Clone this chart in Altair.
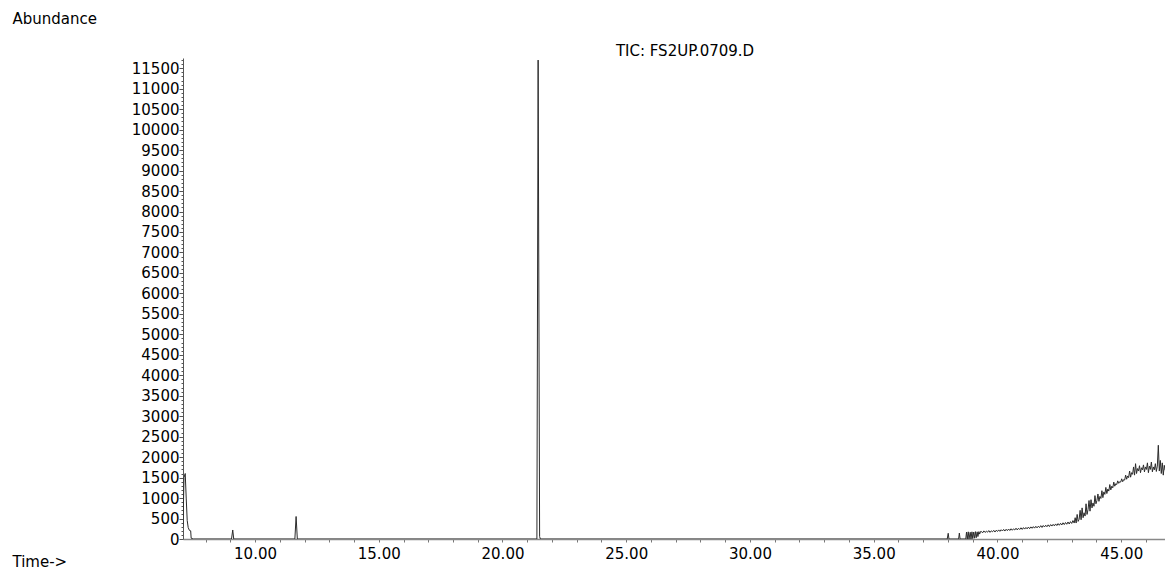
import altair as alt
import pandas as pd

# --- chromatogram values ---
early_times = [7.09, 7.13, 7.18, 7.22, 7.26, 7.30, 7.35, 7.40, 7.42, 7.50,
               9.05, 9.10, 9.14, 11.61, 11.66, 11.71, 21.39, 21.44, 21.50, 21.53]
early_vals = [300, 1500, 1600, 1000, 450, 280, 210, 200, 20, 0,
              0, 220, 0, 0, 550, 0, 0, 11700, 60, 0]

spike_times = [37.97, 38.01, 38.04, 38.43, 38.46, 38.49, 38.72, 38.75, 38.78, 38.82,
               38.85, 38.90, 38.93, 38.97, 39.00, 39.04, 39.07, 39.11, 39.14, 39.18,
               39.21, 39.25, 39.28, 39.32]
spike_vals = [0, 140, 0, 0, 145, 0, 0, 170, 0, 175,
              0, 165, 0, 175, 10, 170, 20, 180, 30, 175,
              60, 180, 120, 185]

slow_times = [39.35, 39.40, 39.45, 39.50, 39.55, 39.60, 39.65, 39.70, 39.75, 39.80,
              39.85, 39.90, 39.95, 40.00, 40.05, 40.10, 40.15, 40.20, 40.25, 40.30,
              40.35, 40.40, 40.45, 40.50, 40.55, 40.60, 40.65, 40.70, 40.75, 40.80,
              40.85, 40.90, 40.95, 41.00, 41.05, 41.10, 41.15, 41.20, 41.25, 41.30,
              41.35, 41.40, 41.45, 41.50, 41.55, 41.60, 41.65, 41.70, 41.75, 41.80,
              41.85, 41.90, 41.95, 42.00, 42.05, 42.10, 42.15, 42.20, 42.25, 42.30,
              42.35, 42.40, 42.45, 42.50, 42.55, 42.60, 42.65, 42.70, 42.75, 42.80,
              42.85, 42.90, 42.95, 43.00, 43.05, 43.10]
slow_vals = [185, 150, 198, 160, 190, 166, 206, 162, 200, 176,
             212, 170, 214, 184, 222, 186, 226, 196, 234, 194,
             238, 204, 244, 208, 250, 214, 248, 220, 264, 222,
             262, 232, 274, 234, 278, 242, 282, 248, 292, 252,
             296, 262, 302, 266, 310, 272, 312, 280, 326, 282,
             330, 294, 336, 300, 346, 304, 352, 316, 358, 320,
             368, 328, 376, 336, 384, 342, 396, 352, 402, 360,
             416, 366, 424, 380, 450, 390]

rise_times = [43.14, 43.18, 43.22, 43.26, 43.30, 43.34, 43.38, 43.42, 43.46, 43.50,
              43.54, 43.58, 43.62, 43.66, 43.70, 43.74, 43.78, 43.82, 43.86, 43.90,
              43.94, 43.98, 44.02, 44.06, 44.10, 44.14, 44.18, 44.22, 44.26, 44.30,
              44.34, 44.38, 44.42, 44.46, 44.50, 44.54, 44.58, 44.62, 44.66, 44.70,
              44.74, 44.78, 44.82, 44.86, 44.90, 44.94, 44.98, 45.02, 45.06, 45.10,
              45.14, 45.18, 45.22, 45.26, 45.30, 45.34, 45.38, 45.42, 45.46, 45.50,
              45.54, 45.58, 45.62, 45.66, 45.70, 45.74, 45.78, 45.82, 45.86, 45.90,
              45.94, 45.98, 46.02, 46.06, 46.10, 46.14, 46.18, 46.22, 46.26, 46.30,
              46.34, 46.38, 46.42, 46.46, 46.50, 46.54, 46.58, 46.62, 46.66, 46.70,
              46.74, 46.78, 46.82, 46.86, 46.90, 46.94, 46.98, 47.02, 47.06, 47.10]
rise_vals = [520, 390, 600, 430, 480, 700, 470, 760, 520, 640,
             560, 860, 600, 720, 940, 680, 960, 760, 880, 800,
             1060, 860, 940, 1100, 920, 1040, 990, 1180, 1010, 1150,
             1090, 1260, 1110, 1220, 1170, 1330, 1200, 1290, 1250, 1390,
             1290, 1350, 1330, 1420, 1360, 1400, 1390, 1470, 1400, 1450,
             1440, 1560, 1460, 1540, 1500, 1660, 1510, 1620, 1580, 1760,
             1560, 1840, 1600, 1720, 1660, 1790, 1620, 1740, 1690, 1810,
             1640, 1760, 1700, 1860, 1620, 1780, 1700, 1880, 1640, 1760,
             1690, 1840, 1650, 1780, 2290, 1660, 1920, 1600, 1860, 1560,
             1800, 1680, 1900, 1620, 1760, 1660, 1740, 1650, 1720, 1690]

y_ticks = list(range(0, 11800, 100))
x_ticks = list(range(8, 47))
title_text = "TIC: FS2UP.0709.D"

times = early_times + spike_times + slow_times + rise_times
vals = early_vals + spike_vals + slow_vals + rise_vals
df = pd.DataFrame({"t": times, "a": vals})

FONT = "DejaVu Sans"

trace = alt.Chart(df).mark_line(color="#2b2b2b", strokeWidth=1, clip=True).encode(
    x=alt.X("t:Q",
            scale=alt.Scale(domain=[7.09, 46.77], nice=False, zero=False),
            axis=alt.Axis(values=x_ticks,
                          labelExpr="datum.value % 5 === 0 ? format(datum.value, '.2f') : ''",
                          grid=False, tickSize=3, tickColor="#777", domainColor="#888",
                          domainWidth=1.5, labelPadding=4, labelFont=FONT, labelFontSize=15,
                          labelColor="black", labelOverlap=False,
                          title="Time->", titleFont=FONT, titleFontSize=15,
                          titleFontWeight="normal", titleColor="black",
                          titleX=-171, titleY=27, titleAlign="left",
                          titleBaseline="alphabetic")),
    y=alt.Y("a:Q",
            scale=alt.Scale(domain=[0, 11750], nice=False),
            axis=alt.Axis(values=y_ticks,
                          labelExpr="datum.value % 500 === 0 ? datum.value : ''",
                          grid=False,
                          tickSize={"condition": {"test": "datum.value % 500 === 0", "value": 4}, "value": 2},
                          tickColor="#555", domainColor="#555",
                          labelPadding=0, labelFont=FONT, labelFontSize=15,
                          labelColor="black", labelOverlap=False,
                          title="Abundance", titleFont=FONT, titleFontSize=15,
                          titleFontWeight="normal", titleColor="black",
                          titleAngle=0, titleX=-171, titleY=-35, titleAlign="left",
                          titleBaseline="alphabetic")),
)

title_mark = alt.Chart(pd.DataFrame({"label": [title_text]})).mark_text(
    font=FONT, fontSize=15, color="black", align="center", baseline="alphabetic"
).encode(
    text="label:N",
    x=alt.value(502),
    y=alt.value(-2),
)

chart = alt.layer(trace, title_mark).properties(
    width=982,
    height=481,
    padding={"left": 175, "top": 50, "right": 0, "bottom": 32},
    autosize=alt.AutoSizeParams(type="none"),
).configure_view(stroke=None)

chart.save("out.html", embed_options={"renderer": "svg", "actions": False})
